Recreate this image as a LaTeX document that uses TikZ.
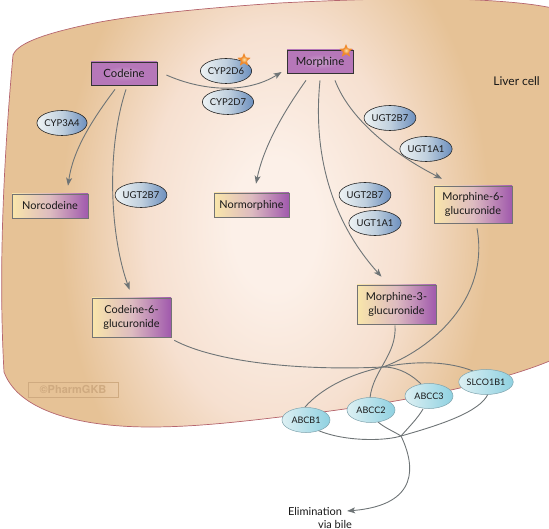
\documentclass[tikz,border=0pt]{standalone}
\usepackage{fontspec}
\setmainfont{Lato}
\newfontfamily\wmfont{TeX Gyre Heros}
\usetikzlibrary{shapes.geometric,arrows.meta,calc}
\definecolor{cellA}{HTML}{FCF0E8}
\definecolor{cellB}{HTML}{F6E0D0}
\definecolor{cellC}{HTML}{E6C296}
\definecolor{cellLine}{HTML}{B5656F}
\definecolor{lineG}{HTML}{6E7476}
\definecolor{drugA}{HTML}{CBA0CD}
\definecolor{drugB}{HTML}{B677B9}
\definecolor{starA}{HTML}{FCE3A8}
\definecolor{starB}{HTML}{F08A2C}
\definecolor{prodA}{HTML}{F9E6AA}
\definecolor{prodM}{HTML}{DDBBC0}
\definecolor{prodB}{HTML}{A059AD}
\definecolor{enzA}{HTML}{EEF3F4}
\definecolor{enzM}{HTML}{C0D0DE}
\definecolor{enzB}{HTML}{6C8FBE}
\definecolor{tranA}{HTML}{DDF0F3}
\definecolor{tranB}{HTML}{8FD1E1}
\definecolor{tranL}{HTML}{7FA3AD}
\definecolor{wm}{HTML}{CFAA80}
\pgfdeclarelayer{cell}
\pgfdeclarelayer{lines}
\pgfsetlayers{cell,lines,main}
\pgfdeclareradialshading{cellshade}{\pgfpoint{0bp}{0bp}}{
  color(0bp)=(cellA); color(5bp)=(cellA); color(15bp)=(cellB); color(25bp)=(cellC); color(50bp)=(cellC)}
\pgfdeclareradialshading{drugshade}{\pgfpoint{0bp}{0bp}}{
  color(0bp)=(drugA); color(16bp)=(drugB); color(50bp)=(drugB)}
\pgfdeclareradialshading{starshade}{\pgfpoint{0bp}{0bp}}{
  color(0bp)=(starA); color(12bp)=(starB); color(50bp)=(starB)}
\tikzset{
  x=1pt,y=-1pt,
  drug/.style={draw=black!80!white,line width=.8pt,shading=drugshade,minimum width=66pt,minimum height=23pt,inner sep=0pt,text height=8pt,text depth=0pt,font=\fontsize{11.3}{12}\selectfont,text=black!90},
  product/.style={draw=black!55,line width=.6pt,left color=prodA,right color=prodB,middle color=prodM,inner sep=0pt,align=center,font=\fontsize{10.9}{14.5}\selectfont,text=black!90},
  enzyme/.style={ellipse,draw=black!85,line width=.6pt,left color=enzA,right color=enzB,middle color=enzM,minimum width=48pt,minimum height=25pt,inner sep=0pt,font=\fontsize{9.5}{11}\selectfont,text=black!90},
  transporter/.style={ellipse,draw=tranL,line width=.5pt,left color=tranA,right color=tranB,minimum width=48pt,minimum height=25pt,inner sep=0pt,font=\fontsize{9}{11}\selectfont,text=black!90},
  burst/.style={star,star points=5,star point ratio=2.2,minimum size=14pt,inner sep=0pt,shading=starshade},
  conn/.style={draw=lineG,line width=.9pt},
  arrowline/.style={conn,-{Stealth[length=8pt,width=6pt,inset=2pt]}},
  caption/.style={inner sep=0pt,font=\fontsize{11}{12}\selectfont,text=black!90}
}
\begin{document}
\begin{tikzpicture}
\useasboundingbox (0,0) rectangle (549,529);
\clip (0,0) rectangle (549,529);
\begin{pgfonlayer}{cell}
  \def\cellpath{(4,372) .. controls (0,300) and (0,200) .. (13,55)
    .. controls (18,42) and (50,32) .. (100,22)
    .. controls (150,13) and (220,7) .. (280,3)
    .. controls (340,0) and (400,-2) .. (450,-1)
    .. controls (490,0) and (530,3) .. (552,8)
    -- (552,360)
    .. controls (510,378) and (420,402) .. (280,417)
    .. controls (230,423) and (190,427) .. (150,427)
    .. controls (90,427) and (20,415) .. (4,372) -- cycle}
  \begin{scope}
    \clip \cellpath;
    \fill[cellC] (-5,-5) rectangle (555,530);
    \path[shading=cellshade] (275,225) ellipse [x radius=215,y radius=330];
  \end{scope}
  \draw[draw=cellLine,line width=.7pt] \cellpath;
\end{pgfonlayer}

\node[drug] (codeine) at (124,73.5) {Codeine};
\node[drug] (morphine) at (320,61.5) {Morphine};
\node[product,minimum width=76pt,minimum height=24pt] (norcodeine) at (50,206) {Norcodeine};
\node[product,minimum width=75pt,minimum height=24pt] (normorphine) at (251.5,205) {Normorphine};
\node[product,minimum width=78pt,minimum height=37pt] (m6g) at (473,204.5) {Morphine-6-\\glucuronide};
\node[product,minimum width=79pt,minimum height=39pt] (m3g) at (396.5,304.5) {Morphine-3-\\glucuronide};
\node[product,minimum width=79pt,minimum height=39pt] (c6g) at (131.5,317.5) {Codeine-6-\\glucuronide};

\node[enzyme] (cyp2d6) at (226,71) {CYP2D6};
\node[enzyme] (cyp2d7) at (228,102) {CYP2D7};
\node[enzyme] (cyp3a4) at (62,123) {CYP3A4};
\node[enzyme] (ugtc) at (141,195) {UGT2B7};
\node[enzyme] (ugta) at (390,118) {UGT2B7};
\node[enzyme] (ugtb) at (426,149) {UGT1A1};
\node[enzyme] (ugtd) at (365,195) {UGT2B7};
\node[enzyme] (ugte) at (375,223) {UGT1A1};

\node[transporter] (abcb1) at (306,420) {ABCB1};
\node[transporter] (abcc2) at (371,410) {ABCC2};
\node[transporter] (abcc3) at (429,396) {ABCC3};
\node[transporter] (slco) at (486,382) {SLCO1B1};

\node[burst] (star1) at (244,60) {};
\node[burst] (star2) at (346,51) {};

\node[caption] (elim) at (315,511) {Elimination};
\node[caption] (bile) at (335,524) {via bile};
\node[inner sep=0pt,anchor=east,font=\fontsize{12}{12}\selectfont,text=black!90] (liver) at (540,81) {Liver cell};
\node[draw=wm,line width=.8pt,text=wm,minimum width=90pt,minimum height=15pt,inner sep=0pt,font=\wmfont\bfseries\fontsize{11}{12}\selectfont] (mark) at (73,389.5) {©PharmGKB};

\coordinate (upper) at (383,367);
\coordinate (lower) at (401,436);

\begin{pgfonlayer}{lines}
  \draw[arrowline] ([shift={(9,1.5)}]codeine.east) .. controls (200,90) and (245,95) .. ([shift={(-5,10.5)}]morphine.west);
  \draw[arrowline] ([shift={(-9,4)}]codeine.south) .. controls (92,120) and (73,150) .. ([shift={(18,-8)}]norcodeine.north);
  \draw[arrowline] ([shift={(2,4)}]codeine.south) .. controls (106,150) and (110,235) .. ([shift={(-2,-8)}]c6g.north);
  \draw[arrowline] ([shift={(-14,7)}]morphine.south) .. controls (285,110) and (264,145) .. ([shift={(4.5,-9)}]normorphine.north);
  \draw[arrowline] ([shift={(0,7)}]morphine.south) .. controls (312,160) and (335,225) .. ([shift={(-15,-8)}]m3g.north);
  \draw[arrowline] ([shift={(15,7)}]morphine.south) .. controls (350,120) and (395,155) .. ([shift={(-31,-7)}]m6g.north);
  \draw[conn] ([shift={(4,5)}]m6g.south) .. controls (490,300) and (430,350) .. (upper) .. controls (350,374) and (322,388) .. ([shift={(-1,-13)}]abcb1.center);
  \draw[conn] ([shift={(-1.5,1)}]m3g.south) .. controls (397,355) and (373,370) .. ([shift={(-1,-12)}]abcc2.center);
  \draw[conn] ([shift={(3,3)}]c6g.south east) .. controls (215,362) and (300,371) .. (upper) .. controls (400,367) and (413,376) .. ([shift={(-8,-12)}]abcc3.center);
  \draw[conn] (upper) .. controls (420,360) and (450,362) .. ([shift={(-13,-11)}]slco.center);
  \draw[conn] ([shift={(11,10)}]abcb1.center) .. controls (345,442) and (385,441) .. (lower) .. controls (440,425) and (480,412) .. ([shift={(2,12)}]slco.center);
  \draw[conn] ([shift={(-6,13)}]abcc3.center) .. controls (418,418) and (408,428) .. (lower);
  \draw[arrowline] ([shift={(7,12)}]abcc2.center) .. controls (385,428) and (393,431) .. (lower) .. controls (415,465) and (420,505) .. ([shift={(5,0)}]elim.east);
\end{pgfonlayer}
\end{tikzpicture}
\end{document}
